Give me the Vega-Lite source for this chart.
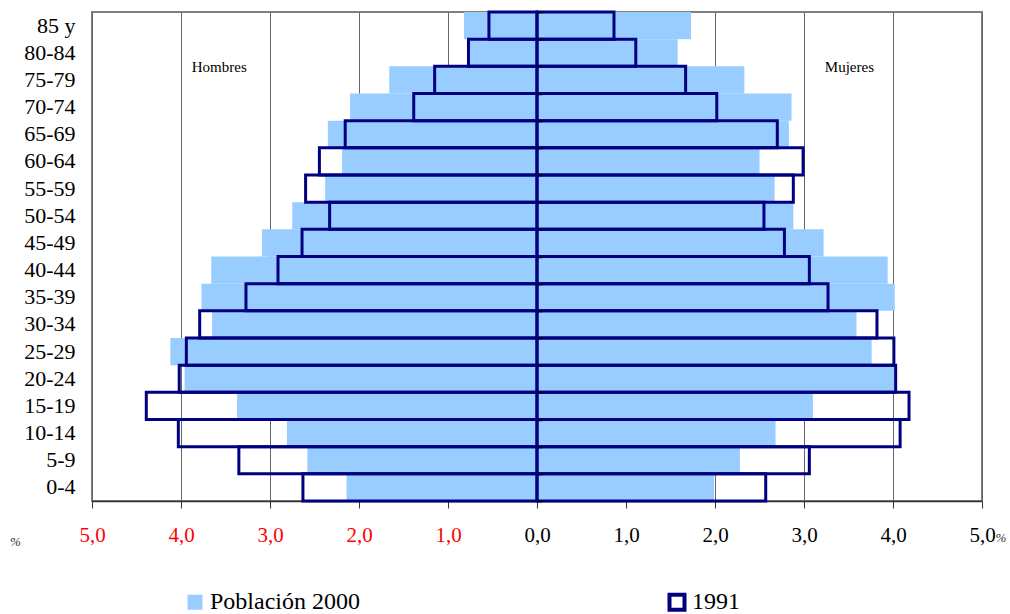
{
  "$schema": "https://vega.github.io/schema/vega-lite/v6.json",
  "width": 890,
  "height": 489,
  "autosize": "none",
  "padding": {"left": 92, "top": 12, "right": 28, "bottom": 113},
  "background": "white",
  "config": {"view": {"stroke": "#808080", "strokeWidth": 2}, "font": "'Liberation Serif', 'Times New Roman', 'DejaVu Serif', serif"},
  "data": {"values": [
    {"age": "85 y", "serie": "Población 2000", "pct": -0.82},
    {"age": "80-84", "serie": "Población 2000", "pct": -0.76},
    {"age": "75-79", "serie": "Población 2000", "pct": -1.66},
    {"age": "70-74", "serie": "Población 2000", "pct": -2.10},
    {"age": "65-69", "serie": "Población 2000", "pct": -2.35},
    {"age": "60-64", "serie": "Población 2000", "pct": -2.19},
    {"age": "55-59", "serie": "Población 2000", "pct": -2.38},
    {"age": "50-54", "serie": "Población 2000", "pct": -2.75},
    {"age": "45-49", "serie": "Población 2000", "pct": -3.09},
    {"age": "40-44", "serie": "Población 2000", "pct": -3.66},
    {"age": "35-39", "serie": "Población 2000", "pct": -3.77},
    {"age": "30-34", "serie": "Población 2000", "pct": -3.65},
    {"age": "25-29", "serie": "Población 2000", "pct": -4.12},
    {"age": "20-24", "serie": "Población 2000", "pct": -3.96},
    {"age": "15-19", "serie": "Población 2000", "pct": -3.37},
    {"age": "10-14", "serie": "Población 2000", "pct": -2.81},
    {"age": "5-9", "serie": "Población 2000", "pct": -2.58},
    {"age": "0-4", "serie": "Población 2000", "pct": -2.14},
    {"age": "85 y", "serie": "Población 2000", "pct": 1.73},
    {"age": "80-84", "serie": "Población 2000", "pct": 1.58},
    {"age": "75-79", "serie": "Población 2000", "pct": 2.33},
    {"age": "70-74", "serie": "Población 2000", "pct": 2.86},
    {"age": "65-69", "serie": "Población 2000", "pct": 2.83},
    {"age": "60-64", "serie": "Población 2000", "pct": 2.50},
    {"age": "55-59", "serie": "Población 2000", "pct": 2.67},
    {"age": "50-54", "serie": "Población 2000", "pct": 2.88},
    {"age": "45-49", "serie": "Población 2000", "pct": 3.22},
    {"age": "40-44", "serie": "Población 2000", "pct": 3.94},
    {"age": "35-39", "serie": "Población 2000", "pct": 4.02},
    {"age": "30-34", "serie": "Población 2000", "pct": 3.59},
    {"age": "25-29", "serie": "Población 2000", "pct": 3.76},
    {"age": "20-24", "serie": "Población 2000", "pct": 4.02},
    {"age": "15-19", "serie": "Población 2000", "pct": 3.10},
    {"age": "10-14", "serie": "Población 2000", "pct": 2.68},
    {"age": "5-9", "serie": "Población 2000", "pct": 2.28},
    {"age": "0-4", "serie": "Población 2000", "pct": 1.99},
    {"age": "85 y", "serie": "1991", "pct": -0.54},
    {"age": "80-84", "serie": "1991", "pct": -0.77},
    {"age": "75-79", "serie": "1991", "pct": -1.15},
    {"age": "70-74", "serie": "1991", "pct": -1.385},
    {"age": "65-69", "serie": "1991", "pct": -2.155},
    {"age": "60-64", "serie": "1991", "pct": -2.445},
    {"age": "55-59", "serie": "1991", "pct": -2.60},
    {"age": "50-54", "serie": "1991", "pct": -2.33},
    {"age": "45-49", "serie": "1991", "pct": -2.64},
    {"age": "40-44", "serie": "1991", "pct": -2.91},
    {"age": "35-39", "serie": "1991", "pct": -3.27},
    {"age": "30-34", "serie": "1991", "pct": -3.79},
    {"age": "25-29", "serie": "1991", "pct": -3.94},
    {"age": "20-24", "serie": "1991", "pct": -4.02},
    {"age": "15-19", "serie": "1991", "pct": -4.39},
    {"age": "10-14", "serie": "1991", "pct": -4.03},
    {"age": "5-9", "serie": "1991", "pct": -3.35},
    {"age": "0-4", "serie": "1991", "pct": -2.63},
    {"age": "85 y", "serie": "1991", "pct": 0.865},
    {"age": "80-84", "serie": "1991", "pct": 1.11},
    {"age": "75-79", "serie": "1991", "pct": 1.67},
    {"age": "70-74", "serie": "1991", "pct": 2.02},
    {"age": "65-69", "serie": "1991", "pct": 2.70},
    {"age": "60-64", "serie": "1991", "pct": 2.99},
    {"age": "55-59", "serie": "1991", "pct": 2.88},
    {"age": "50-54", "serie": "1991", "pct": 2.55},
    {"age": "45-49", "serie": "1991", "pct": 2.78},
    {"age": "40-44", "serie": "1991", "pct": 3.06},
    {"age": "35-39", "serie": "1991", "pct": 3.27},
    {"age": "30-34", "serie": "1991", "pct": 3.82},
    {"age": "25-29", "serie": "1991", "pct": 4.01},
    {"age": "20-24", "serie": "1991", "pct": 4.03},
    {"age": "15-19", "serie": "1991", "pct": 4.18},
    {"age": "10-14", "serie": "1991", "pct": 4.08},
    {"age": "5-9", "serie": "1991", "pct": 3.06},
    {"age": "0-4", "serie": "1991", "pct": 2.57}
  ]},
  "resolve": {"axis": {"y": "independent"}},
  "layer": [
    {
      "mark": {"type": "bar", "strokeWidth": 3, "strokeJoin": "miter"},
      "encoding": {
        "y": {
          "field": "age", "type": "nominal",
          "scale": {"domain": ["85 y","80-84","75-79","70-74","65-69","60-64","55-59","50-54","45-49","40-44","35-39","30-34","25-29","20-24","15-19","10-14","5-9","0-4"], "paddingInner": 0, "paddingOuter": 0},
          "axis": {"title": null, "domain": false, "ticks": false, "tickSize": 0, "labelPadding": 17, "labelFontSize": 22, "labelColor": "black", "labelFont": "'Liberation Serif', 'Times New Roman', 'DejaVu Serif', serif"}
        },
        "x": {
          "field": "pct", "type": "quantitative",
          "scale": {"domain": [-5, 5], "nice": false, "zero": false},
          "axis": {
            "title": "%", "titleX": -77, "titleY": 40, "titleFontSize": 13, "titleFontWeight": "normal", "titleColor": "#333333", "titleFont": "'Liberation Serif', 'Times New Roman', 'DejaVu Serif', serif", "titleFontStyle": "italic", "titleAlign": "center", "titleBaseline": "middle", "titleAngle": 0,
            "values": [-5,-4,-3,-2,-1,0,1,2,3,4,5],
            "grid": true, "gridColor": "#666666", "gridWidth": 1,
            "domainColor": "#333333", "domainWidth": 1.5, "tickColor": "#333333", "tickSize": 7, "tickWidth": 1,
            "labelPadding": 16, "labelFontSize": 21, "labelFont": "'Liberation Serif', 'Times New Roman', 'DejaVu Serif', serif",
            "labelExpr": "replace(format(abs(datum.value), '.1f'), '.', ',')",
            "labelColor": {"condition": {"test": "datum.value < 0", "value": "#FF0000"}, "value": "black"},
            "labelFlush": false, "labelOverlap": false
          }
        },
        "x2": {"datum": 0},
        "fill": {
          "field": "serie", "type": "nominal",
          "scale": {"domain": ["Población 2000", "1991"], "range": ["#99CCFF", "rgba(255,255,255,0)"]},
          "legend": {"title": null, "orient": "none", "legendX": 91, "legendY": 578, "direction": "horizontal", "columns": 2, "columnPadding": 301, "symbolType": "square", "symbolSize": 225, "symbolStrokeWidth": 4, "labelFontSize": 24, "labelFont": "'Liberation Serif', 'Times New Roman', 'DejaVu Serif', serif", "labelColor": "black", "labelOffset": 3, "labelLimit": 300}
        },
        "stroke": {
          "field": "serie", "type": "nominal",
          "scale": {"domain": ["Población 2000", "1991"], "range": ["rgba(0,0,0,0)", "#000080"]},
          "legend": {"title": null, "orient": "none", "legendX": 91, "legendY": 578, "direction": "horizontal", "columns": 2, "columnPadding": 301, "symbolType": "square", "symbolSize": 225, "symbolStrokeWidth": 4, "labelFontSize": 24, "labelFont": "'Liberation Serif', 'Times New Roman', 'DejaVu Serif', serif", "labelColor": "black", "labelOffset": 3, "labelLimit": 300}
        }
      }
    },
    {
      "mark": {"type": "point", "opacity": 0},
      "encoding": {
        "y": {"field": "age", "type": "nominal", "axis": {"orient": "right", "offset": -445, "labels": false, "domain": false, "ticks": true, "tickBand": "extent", "tickSize": 5, "tickColor": "black", "tickWidth": 1.5, "title": null, "grid": false, "zindex": 1}},
        "x": {"datum": 0}
      }
    },
    {
      "data": {"values": [{"label": "Hombres"}]},
      "mark": {"type": "text", "fontSize": 15, "font": "'Liberation Serif', 'Times New Roman', 'DejaVu Serif', serif", "fill": "black", "dy": 14},
      "encoding": {"x": {"datum": -3.57}, "y": {"datum": "80-84", "axis": null}, "text": {"field": "label"}}
    },
    {
      "data": {"values": [{"label": "Mujeres"}]},
      "mark": {"type": "text", "fontSize": 15, "font": "'Liberation Serif', 'Times New Roman', 'DejaVu Serif', serif", "fill": "black", "dy": 14},
      "encoding": {"x": {"datum": 3.51}, "y": {"datum": "80-84", "axis": null}, "text": {"field": "label"}}
    },
    {
      "data": {"values": [{"label": "%"}]},
      "mark": {"type": "text", "fontSize": 13, "fontStyle": "italic", "font": "'Liberation Serif', 'Times New Roman', 'DejaVu Serif', serif", "fill": "#333333", "dx": 19, "dy": 51},
      "encoding": {"x": {"datum": 5}, "y": {"datum": "0-4", "axis": null}, "text": {"field": "label"}}
    }
  ]
}
